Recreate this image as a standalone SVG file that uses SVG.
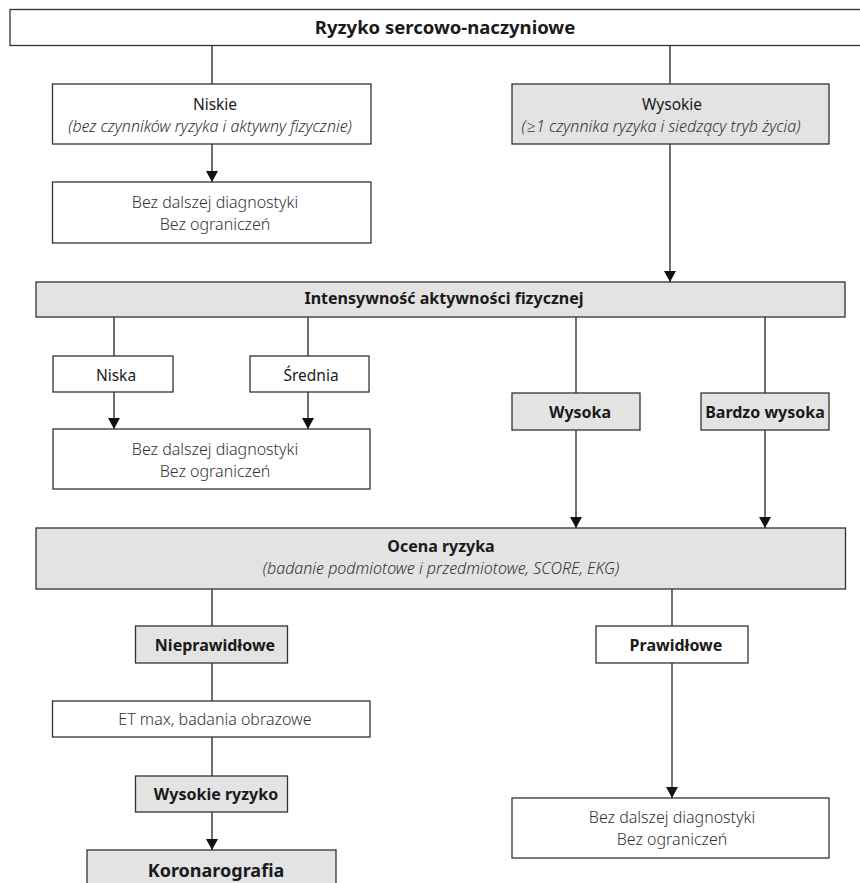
<svg xmlns="http://www.w3.org/2000/svg" width="860" height="883" viewBox="0 0 860 883">
<style>
rect{stroke:#333;stroke-width:1.3}
.w{fill:#fff}
.g{fill:#e3e3e3}
text{font-family:"Noto Sans","Open Sans","DejaVu Sans",sans-serif;text-anchor:middle;fill:#1a1a1a}
.b{font-weight:bold;font-size:16px}
.t{font-weight:bold;font-size:18.5px}
.k{font-weight:bold;font-size:18px}
.r{font-size:15.5px}
.l{font-size:16px;font-weight:300;fill:#333}
.i{font-size:16px;font-style:italic;font-weight:300;fill:#333}
.c{stroke:#222;stroke-width:1.3;fill:none}
</style>
<defs>
<marker id="arr" markerUnits="userSpaceOnUse" viewBox="0 0 11 12" refX="11" refY="6" markerWidth="11" markerHeight="12" orient="auto">
<path d="M0,0 L11,6 L0,12 z" fill="#111"/>
</marker>
</defs>
<g id="connectors">
<line class="c" x1="212" y1="45.5" x2="212" y2="84"/>
<line class="c" x1="670" y1="45.5" x2="670" y2="84"/>
<line class="c" x1="212" y1="144" x2="212" y2="182" marker-end="url(#arr)"/>
<line class="c" x1="670" y1="144" x2="670" y2="282" marker-end="url(#arr)"/>
<line class="c" x1="114" y1="317" x2="114" y2="356"/>
<line class="c" x1="308" y1="317" x2="308" y2="356"/>
<line class="c" x1="576" y1="317" x2="576" y2="393"/>
<line class="c" x1="765" y1="317" x2="765" y2="393"/>
<line class="c" x1="114" y1="392" x2="114" y2="429" marker-end="url(#arr)"/>
<line class="c" x1="308" y1="392" x2="308" y2="429" marker-end="url(#arr)"/>
<line class="c" x1="576" y1="430" x2="576" y2="528" marker-end="url(#arr)"/>
<line class="c" x1="765" y1="430" x2="765" y2="528" marker-end="url(#arr)"/>
<line class="c" x1="212" y1="589" x2="212" y2="626"/>
<line class="c" x1="672" y1="589" x2="672" y2="626"/>
<line class="c" x1="212" y1="663" x2="212" y2="701"/>
<line class="c" x1="212" y1="737" x2="212" y2="776"/>
<line class="c" x1="212" y1="812" x2="212" y2="850" marker-end="url(#arr)"/>
<line class="c" x1="672" y1="663" x2="672" y2="798" marker-end="url(#arr)"/>
</g>
<g id="n-ryzyko">
<rect class="w" x="10" y="9.5" width="860" height="36"/>
<text class="t" x="445" y="34">Ryzyko sercowo-naczyniowe</text>
</g>
<g id="n-niskie">
<rect class="w" x="52.5" y="84" width="318.5" height="60"/>
<text class="r" x="215" y="110">Niskie</text>
<text class="i" x="210" y="132">(bez czynników ryzyka i aktywny fizycznie)</text>
</g>
<g id="n-wysokie">
<rect class="g" x="512" y="84" width="317" height="60"/>
<text class="r" x="672" y="110">Wysokie</text>
<text class="i" x="661" y="132">(≥1 czynnika ryzyka i siedzący tryb życia)</text>
</g>
<g id="n-bez1">
<rect class="w" x="52.5" y="182" width="318.5" height="61"/>
<text class="l" x="215" y="208">Bez dalszej diagnostyki</text>
<text class="l" x="215" y="230">Bez ograniczeń</text>
</g>
<g id="n-intensywnosc">
<rect class="g" x="36" y="282" width="809" height="35"/>
<text class="b" x="444" y="304">Intensywność aktywności fizycznej</text>
</g>
<g id="n-niska">
<rect class="w" x="53" y="356" width="120" height="36"/>
<text class="r" x="116" y="381">Niska</text>
</g>
<g id="n-srednia">
<rect class="w" x="250" y="356" width="119" height="36"/>
<text class="r" x="311" y="381">Średnia</text>
</g>
<g id="n-wysoka">
<rect class="g" x="512" y="393" width="128" height="37"/>
<text class="b" x="580" y="418">Wysoka</text>
</g>
<g id="n-bardzo">
<rect class="g" x="701" y="393" width="128" height="37"/>
<text class="b" x="765" y="418">Bardzo wysoka</text>
</g>
<g id="n-bez2">
<rect class="w" x="53" y="429" width="317" height="60"/>
<text class="l" x="215" y="455">Bez dalszej diagnostyki</text>
<text class="l" x="215" y="477">Bez ograniczeń</text>
</g>
<g id="n-ocena">
<rect class="g" x="36" y="528" width="809.5" height="61"/>
<text class="b" x="441" y="552">Ocena ryzyka</text>
<text class="i" x="441" y="574">(badanie podmiotowe i przedmiotowe, SCORE, EKG)</text>
</g>
<g id="n-nieprawidlowe">
<rect class="g" x="135.5" y="626" width="152" height="37"/>
<text class="b" x="215" y="651">Nieprawidłowe</text>
</g>
<g id="n-prawidlowe">
<rect class="w" x="596" y="626" width="152" height="37"/>
<text class="b" x="676" y="651">Prawidłowe</text>
</g>
<g id="n-etmax">
<rect class="w" x="52.5" y="701" width="317.5" height="36"/>
<text class="l" x="215" y="725">ET max, badania obrazowe</text>
</g>
<g id="n-wysokie-ryzyko">
<rect class="g" x="135.5" y="776" width="152" height="36"/>
<text class="b" x="216" y="800">Wysokie ryzyko</text>
</g>
<g id="n-koronarografia">
<rect class="g" x="87" y="850" width="249" height="50"/>
<text class="k" x="216" y="877">Koronarografia</text>
</g>
<g id="n-bez3">
<rect class="w" x="512" y="798" width="317" height="60"/>
<text class="l" x="672" y="823">Bez dalszej diagnostyki</text>
<text class="l" x="672" y="845">Bez ograniczeń</text>
</g>
</svg>
